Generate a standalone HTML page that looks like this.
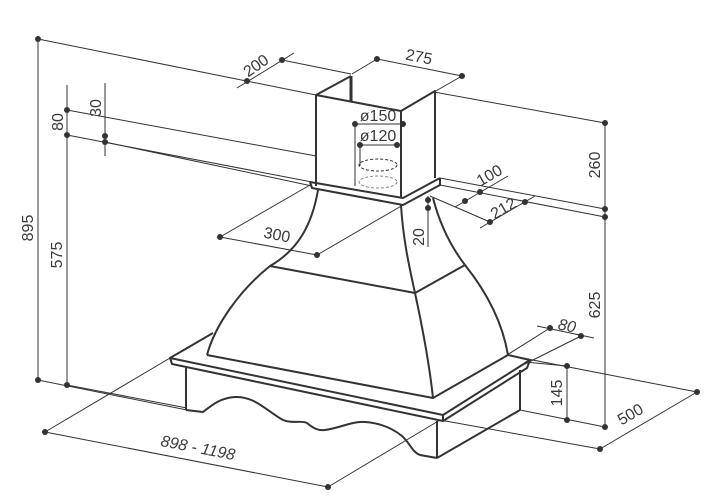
<!DOCTYPE html>
<html><head><style>
html,body{margin:0;padding:0;background:#fff;width:714px;height:500px;overflow:hidden}
text{font-family:"Liberation Sans",sans-serif;font-size:16px;fill:#3a3a3a}
</style></head><body>
<svg width="714" height="500" viewBox="0 0 714 500" xmlns="http://www.w3.org/2000/svg">
<g stroke="#333" stroke-width="1" fill="none">
<line x1="38" y1="39" x2="38" y2="380"/>
<line x1="67" y1="85" x2="67" y2="385"/>
<line x1="105" y1="83" x2="105" y2="156"/>
<line x1="38" y1="39" x2="316" y2="95"/>
<line x1="282" y1="60" x2="351" y2="74"/>
<line x1="434" y1="92" x2="605" y2="123"/>
<line x1="67" y1="110" x2="316" y2="156"/>
<line x1="67" y1="135" x2="312" y2="182"/>
<line x1="105" y1="142" x2="312" y2="186"/>
<line x1="440" y1="178" x2="605" y2="209"/>
<line x1="440" y1="185" x2="605" y2="217"/>
<line x1="38" y1="380" x2="187" y2="410"/>
<line x1="67" y1="385" x2="187" y2="408"/>
<line x1="605" y1="123" x2="605" y2="427"/>
<line x1="567" y1="366" x2="567" y2="420"/>
<line x1="520" y1="410" x2="605" y2="427"/>
<line x1="525" y1="362" x2="567" y2="366"/>
<line x1="507" y1="355" x2="697" y2="392"/>
<line x1="600" y1="449" x2="697" y2="392"/>
<line x1="440" y1="420" x2="600" y2="449"/>
<line x1="507" y1="355" x2="550" y2="328"/>
<line x1="525" y1="364" x2="581" y2="336"/>
<line x1="537" y1="326" x2="594" y2="338"/>
<line x1="45" y1="432" x2="328" y2="487"/>
<line x1="45" y1="432" x2="170" y2="358"/>
<line x1="328" y1="487" x2="440" y2="420"/>
<line x1="237" y1="88" x2="294" y2="53"/>
<line x1="377" y1="59" x2="462" y2="76"/>
<line x1="377" y1="59" x2="352" y2="74"/>
<line x1="462" y1="76" x2="434" y2="92"/>
<line x1="220" y1="237" x2="317" y2="255"/>
<line x1="220" y1="237" x2="310" y2="185"/>
<line x1="317" y1="255" x2="403" y2="205"/>
<line x1="455" y1="207" x2="508" y2="176"/>
<line x1="480" y1="228" x2="535" y2="196"/>
<line x1="430" y1="196" x2="490" y2="222"/>
<line x1="428" y1="196" x2="428" y2="247"/>
<line x1="355" y1="124" x2="403" y2="124"/>
<line x1="360" y1="145" x2="397" y2="145"/>
<line x1="355" y1="124" x2="355" y2="186"/>
<line x1="360" y1="145" x2="360" y2="166"/>
<ellipse cx="378" cy="165" rx="19" ry="6" stroke-dasharray="3 2"/>
<ellipse cx="378" cy="182" rx="19" ry="6" stroke-dasharray="3 2" stroke="#888"/>
</g>
<g stroke="#333" stroke-width="2" fill="none" stroke-linejoin="round">
<polyline points="316,186 316,95 401,111 401,198"/>
<polyline points="401,111 435,91 435,178"/>
<line x1="316" y1="95" x2="351" y2="76"/>
<line x1="351" y1="76" x2="351" y2="102" stroke-width="3"/>
<polyline points="310,182 403,198 440,178"/>
<polyline points="310,182 312,188 403,205 440,185 440,178"/>
<path d="M318,190 C312,225 298,250 270,266 C240,290 215,325 207,355"/>
<path d="M401,205 C403,240 410,270 415,293 C423,330 430,370 433,398"/>
<path d="M433,198 C440,225 452,248 465,265 C485,290 502,320 508,355"/>
<line x1="270" y1="266" x2="415" y2="293"/>
<line x1="415" y1="293" x2="465" y2="265"/>
<polyline points="207,355 433,398 508,355"/>
<polyline points="213,333 170,358 443,415 530,360 508,355"/>
<polyline points="170,358 172,364 443,421 527,368 530,360"/>
<line x1="443" y1="415" x2="443" y2="421"/>
<line x1="186" y1="368" x2="186" y2="410"/>
<path d="M186,410 L203,412 C212,405 220,398 235,397 C255,396 268,412 283,420 C292,424 302,420 307,423 C313,428 318,431 325,430 C340,428 352,421 365,422 C380,423 392,428 402,436 C410,443 412,452 420,455 L437,458"/>
<line x1="437" y1="421" x2="437" y2="458"/>
<line x1="437" y1="458" x2="520" y2="410"/>
<line x1="520" y1="370" x2="520" y2="410"/>
</g>
<g fill="#333">
<circle cx="38" cy="39" r="3"/><circle cx="38" cy="380" r="3"/>
<circle cx="67" cy="110" r="3"/><circle cx="67" cy="135" r="3"/><circle cx="67" cy="385" r="3"/>
<circle cx="105" cy="136" r="3"/><circle cx="105" cy="142" r="3"/>
<circle cx="605" cy="123" r="3"/><circle cx="605" cy="209" r="3"/><circle cx="605" cy="217" r="3"/><circle cx="605" cy="427" r="3"/>
<circle cx="567" cy="366" r="3"/><circle cx="567" cy="420" r="3"/>
<circle cx="697" cy="392" r="3"/><circle cx="600" cy="449" r="3"/>
<circle cx="550" cy="328" r="3"/><circle cx="581" cy="336" r="3"/>
<circle cx="45" cy="432" r="3"/><circle cx="328" cy="487" r="3"/>
<circle cx="247" cy="81" r="3"/><circle cx="282" cy="60" r="3"/>
<circle cx="377" cy="59" r="3"/><circle cx="462" cy="76" r="3"/>
<circle cx="220" cy="237" r="3"/><circle cx="317" cy="255" r="3"/>
<circle cx="465" cy="201" r="3"/><circle cx="480" cy="192" r="3"/>
<circle cx="490" cy="222" r="3"/><circle cx="525" cy="202" r="3"/>
<circle cx="428" cy="200" r="3"/><circle cx="428" cy="208" r="3"/>
<circle cx="355" cy="124" r="3"/><circle cx="403" cy="124" r="3"/>
<circle cx="360" cy="145" r="3"/><circle cx="397" cy="145" r="3"/>
</g>
<text transform="translate(33,228) rotate(-90)" text-anchor="middle">895</text>
<text transform="translate(62,255) rotate(-90)" text-anchor="middle">575</text>
<text transform="translate(63,122) rotate(-90)" text-anchor="middle">80</text>
<text transform="translate(101,108) rotate(-90)" text-anchor="middle">30</text>
<text transform="translate(259,70) rotate(-35)" text-anchor="middle">200</text>
<text transform="translate(418,62) rotate(11)" text-anchor="middle">275</text>
<text x="378" y="121" text-anchor="middle">ø150</text>
<text x="378" y="141" text-anchor="middle">ø120</text>
<text transform="translate(492,180) rotate(-30)" text-anchor="middle">100</text>
<text transform="translate(506,213) rotate(-30)" text-anchor="middle">212</text>
<text transform="translate(276,240) rotate(11)" text-anchor="middle">300</text>
<text transform="translate(424,237) rotate(-90)" text-anchor="middle">20</text>
<text transform="translate(600,165) rotate(-90)" text-anchor="middle">260</text>
<text transform="translate(600,305) rotate(-90)" text-anchor="middle">625</text>
<text transform="translate(562,393) rotate(-90)" text-anchor="middle">145</text>
<text transform="translate(566,331) rotate(11)" text-anchor="middle" font-style="italic">80</text>
<text transform="translate(633,419) rotate(-30)" text-anchor="middle">500</text>
<text transform="translate(197,453) rotate(11)" text-anchor="middle" font-style="italic">898 - 1198</text>
</svg>
</body></html>
